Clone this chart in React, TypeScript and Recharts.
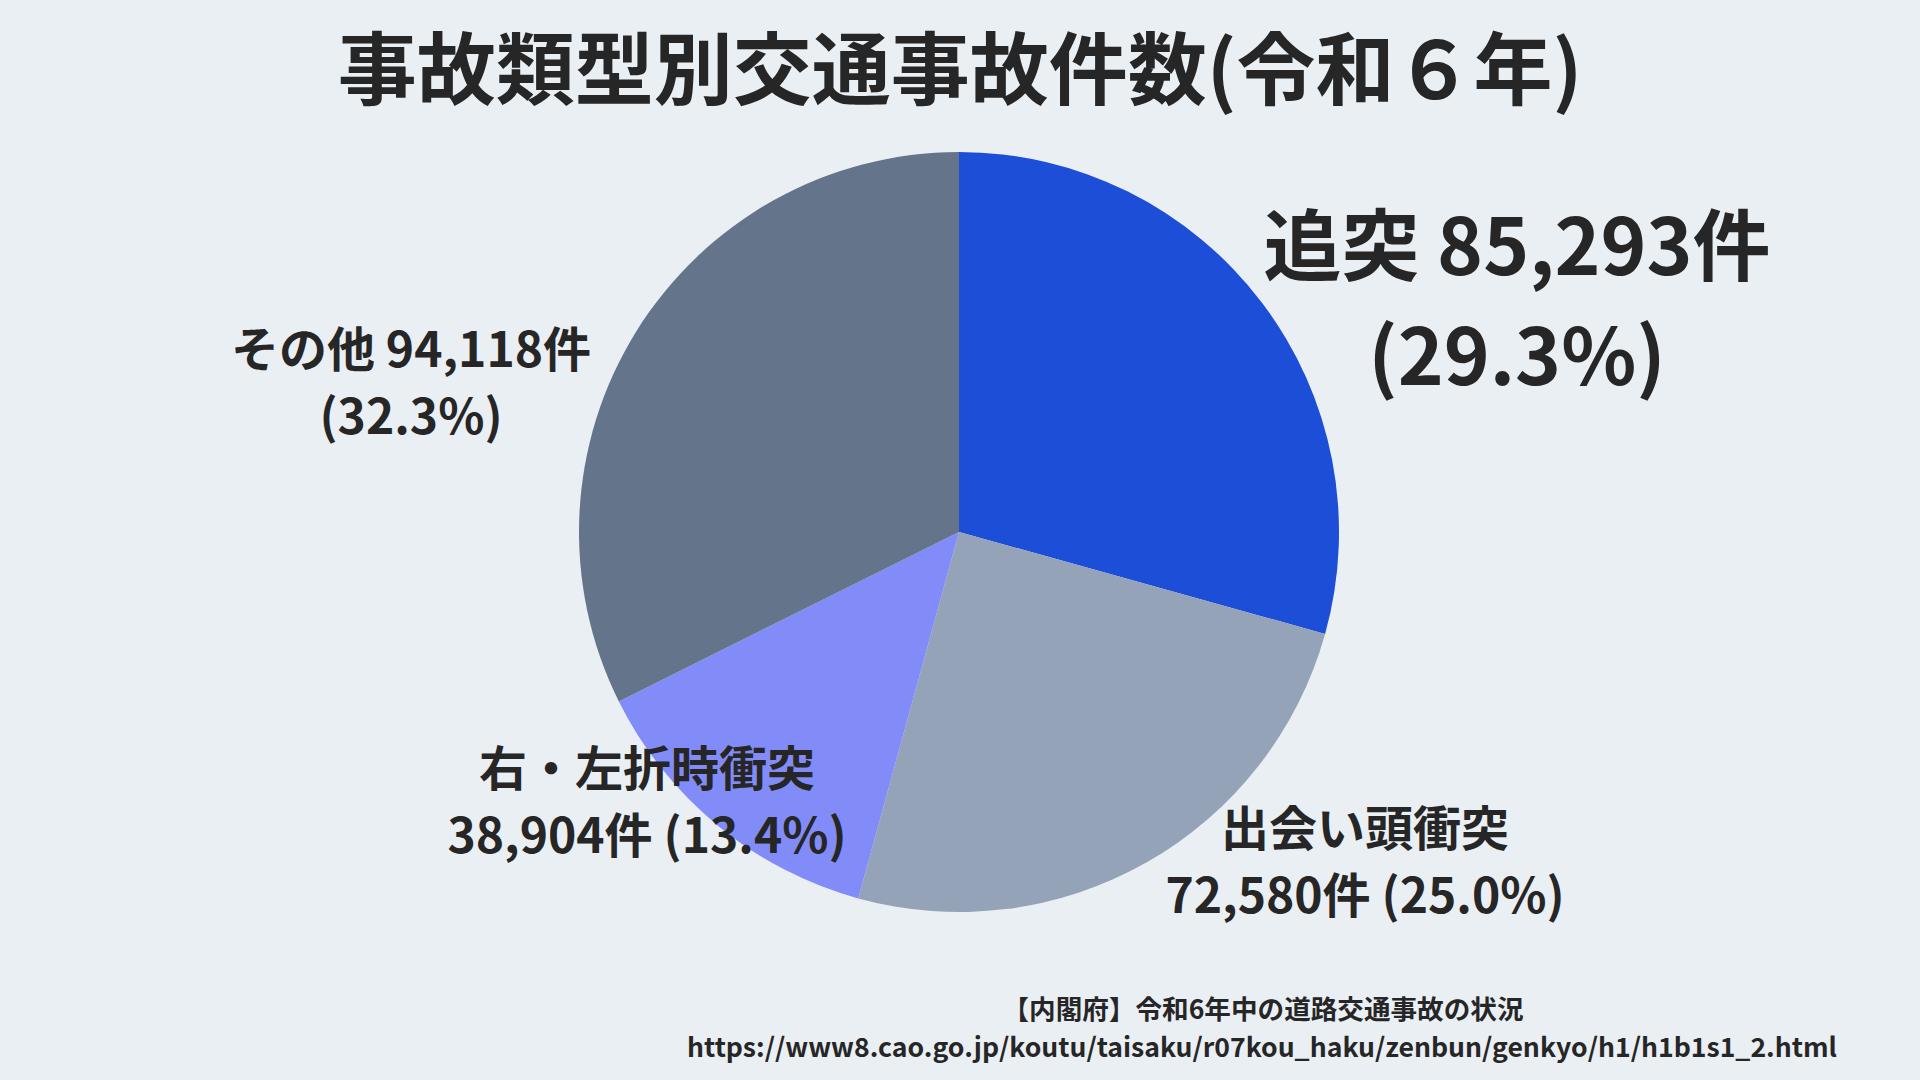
import { PieChart, Pie, Cell } from 'recharts';

const categories = ['追突', '出会い頭衝突', '右・左折時衝突', 'その他'];
const counts = [85293, 72580, 38904, 94118];
const shares = [29.3, 25.0, 13.4, 32.3];
const colors = ['#1D4ED8', '#94A3B8', '#818CF8', '#64748B'];

const data = categories.map((name, i) => ({ name, value: counts[i], share: shares[i] }));

const FONT = '"Noto Sans CJK JP", "Noto Sans", sans-serif';
const TEXT = '#262626';

// label block centre relative to the pie centre, font size, line gap
const labelLayout = [
  { dx: 558, dy: -236, size: 78, gap: 110 },
  { dx: 406, dy: 326, size: 48, gap: 67 },
  { dx: -312, dy: 266, size: 48, gap: 67 },
  { dx: -548, dy: -153, size: 48, gap: 67 },
];

const fmt = (n: number) => n.toLocaleString('en-US');

function labelLines(i: number) {
  const d = data[i];
  if (i === 0 || i === 3) return [`${d.name} ${fmt(d.value)}件`, `(${d.share.toFixed(1)}%)`];
  return [d.name, `${fmt(d.value)}件 (${d.share.toFixed(1)}%)`];
}

const renderLabel = (props: any) => {
  const { cx, cy, index } = props;
  const l = labelLayout[index];
  const lines = labelLines(index);
  const x = cx + l.dx;
  const y = cy + l.dy;
  return (
    <text
      key={`lbl-${index}`}
      x={x}
      y={y - l.gap / 2}
      textAnchor="middle"
      dominantBaseline="central"
      fill={TEXT}
      fontSize={l.size}
      fontWeight={700}
      fontFamily={FONT}
    >
      {lines.map((t, k) => (
        <tspan key={k} x={x} dy={k === 0 ? 0 : l.gap}>
          {t}
        </tspan>
      ))}
    </text>
  );
};

export default function App() {
  return (
    <div
      style={{
        position: 'fixed',
        top: 0,
        left: 0,
        width: 1920,
        height: 1080,
        background: '#EAEFF4',
        fontFamily: FONT,
        color: TEXT,
        overflow: 'hidden',
      }}
    >
      <div
        style={{
          position: 'absolute',
          top: 20,
          left: 0,
          width: 1920,
          textAlign: 'center',
          fontSize: 79,
          fontWeight: 700,
          lineHeight: '90px',
        }}
      >
        事故類型別交通事故件数(令和６年)
      </div>
      <div style={{ position: 'absolute', top: 0, left: 0 }}>
        <PieChart width={1920} height={1080} margin={{ top: 0, right: 0, bottom: 0, left: 0 }}>
          <Pie
            data={data}
            dataKey="value"
            cx={959}
            cy={532}
            outerRadius={380}
            startAngle={90}
            endAngle={-270}
            stroke="none"
            label={renderLabel}
            labelLine={false}
            isAnimationActive={false}
          >
            {data.map((d, i) => (
              <Cell key={d.name} fill={colors[i]} />
            ))}
          </Pie>
        </PieChart>
      </div>
      <div
        style={{
          position: 'absolute',
          top: 989,
          left: 0,
          width: 1837,
          textAlign: 'right',
          fontSize: 26.6,
          fontWeight: 700,
          lineHeight: '38px',
        }}
      >
        <div style={{ textAlign: 'center', marginLeft: 689 }}>【内閣府】令和6年中の道路交通事故の状況</div>
        <div>https://www8.cao.go.jp/koutu/taisaku/r07kou_haku/zenbun/genkyo/h1/h1b1s1_2.html</div>
      </div>
    </div>
  );
}
